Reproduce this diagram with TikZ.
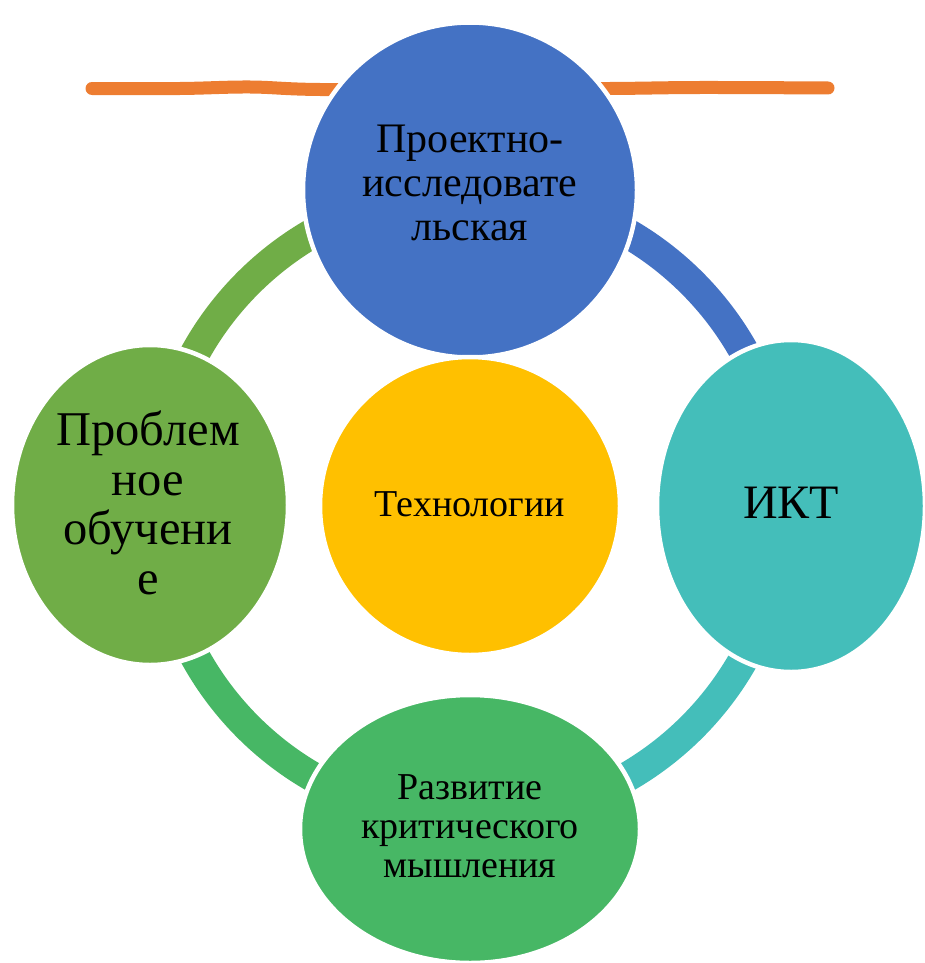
\documentclass[tikz,border=0pt]{standalone}
\usepackage{fontspec}
\setmainfont{Liberation Serif}
\usetikzlibrary{shapes.geometric}
\definecolor{cblue}{HTML}{4472C4}
\definecolor{corange}{HTML}{ED7D31}
\definecolor{cgold}{HTML}{FFC000}
\definecolor{cgreenA}{HTML}{70AD47}
\definecolor{cgreenB}{RGB}{71,183,101}
\definecolor{cteal}{RGB}{68,190,186}
\tikzset{
  blob/.style={ellipse, draw=white, line width=4.5pt, inner sep=0pt},
  ringseg/.style={line width=30pt, line cap=butt},
  lbl/.style={align=center, inner sep=0pt, text=black}
}
\begin{document}
\begin{tikzpicture}[x=1pt,y=-1pt]
\useasboundingbox (0,0) rectangle (925,963);
% orange hand-drawn line
\draw[corange, line width=13pt, line cap=round]
  plot[smooth, tension=0.6] coordinates {(92,88.5) (180,88.5) (250,87) (320,89.5) (470,89) (610,88.5) (700,87.5) (828,88)};
% ring
\coordinate (rc) at (470,505);
\draw[ringseg, cgreenA] (rc) ++(180:314) arc[start angle=180, end angle=270, radius=314];
\draw[ringseg, cblue]   (rc) ++(270:314) arc[start angle=270, end angle=360, radius=314];
\draw[ringseg, cteal]   (rc) ++(0:314)   arc[start angle=0,   end angle=90,  radius=314];
\draw[ringseg, cgreenB] (rc) ++(90:314)  arc[start angle=90,  end angle=180, radius=314];
% shapes
\node[blob, fill=cblue,   minimum width=334pt, minimum height=335pt] (top) at (470,190) {};
\node[blob, fill=cteal,   minimum width=268pt, minimum height=332pt] (right) at (791,506) {};
\node[blob, fill=cgreenA, minimum width=276pt, minimum height=320pt] (left) at (150,505) {};
\node[blob, fill=cgreenB, minimum width=340pt, minimum height=268pt] (bottom) at (470,829) {};
\node[blob, fill=cgold,   minimum width=300pt, minimum height=298pt] (center) at (470,506) {};
% texts
\node[lbl, font=\fontsize{42}{44}\selectfont] (toptext) at (470,182.5) {Проектно-\\исследовате\\льская};
\node[lbl, font=\fontsize{48.5}{49.5}\selectfont] (lefttext) at (148,503) {Проблем\\ное\\обучени\\е};
\node[lbl, font=\fontsize{38}{38}\selectfont] (centertext) at (470,504.5) {Технологии};
\node[lbl, font=\fontsize{48}{48}\selectfont] (righttext) at (791,503) {ИКТ};
\node[lbl, font=\fontsize{38}{39}\selectfont] (bottomtext) at (470,826) {Развитие\\критического\\мышления};
\end{tikzpicture}
\end{document}
